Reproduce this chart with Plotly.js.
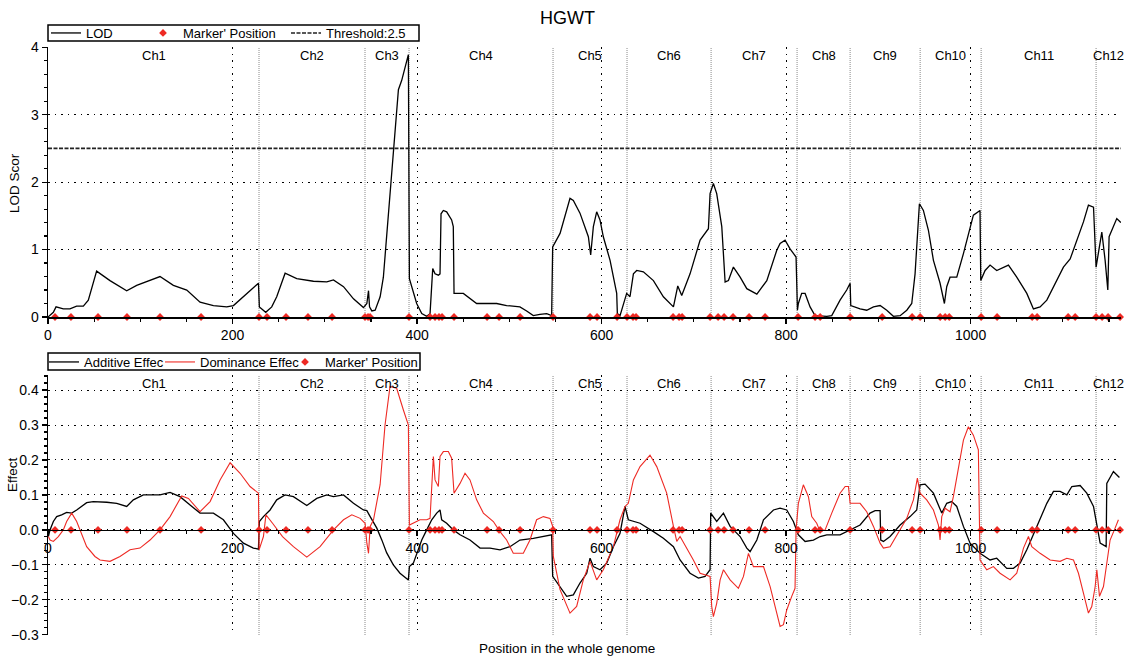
<!DOCTYPE html>
<html>
<head>
<meta charset="utf-8">
<script src="https://cdn.plot.ly/plotly-3.0.1.min.js"></script>
<style>html,body{margin:0;padding:0;background:#fff;}#chart{width:1135px;height:659px;}</style>
</head>
<body>
<div id="chart"></div>
<script>
// ---------------- DATA ----------------
const chromNames = ['Ch1','Ch2','Ch3','Ch4','Ch5','Ch6','Ch7','Ch8','Ch9','Ch10','Ch11','Ch12'];
const chromStarts = [0, 228.7, 343.6, 391.3, 547.4, 627.6, 718.7, 811.9, 869.4, 945.3, 1011.4, 1136];
const genomeEnd = 1163;
const threshold = 2.5;

const markerPos = [7.6, 24.9, 54.2, 85.6, 121.4, 165.9, 228.7, 237.4, 258, 281.8, 307.9, 343.6, 346.9, 349.1,
  391.3, 414.1, 419.5, 423.8, 427.1, 440.1, 475.9, 488.9, 511.7, 547.4, 587.5, 595.1, 616.8, 627.6, 634.1, 637.4,
  677.5, 684, 687.3, 717.6, 726.3, 732.8, 742.5, 759.9, 777.2, 813, 831.4, 836.9, 869.4, 904.1, 936.6, 945.3,
  967, 972.4, 976.8, 1011.4, 1028.7, 1066.7, 1072.1, 1105.7, 1113.3, 1136, 1142.5, 1149, 1162];

const lodX = [0, 1.4, 5.8, 8.7, 16.6, 23.8, 31.0, 38.3, 43.7, 52.7, 67.2, 85.3, 96.1, 121.4, 135.9, 150.4, 164.8, 179.3, 193.7, 201.0, 215.4, 228.1,
  229.1, 233.5, 236.0, 242.5, 247.9, 257.0, 269.6, 287.7, 302.2, 309.4, 320.3, 331.1, 341.9,
  345.6, 347.4, 348.5, 351.0, 354.6, 357, 360.0, 363.5, 368.9, 374.3, 379.8, 383.4, 387.0, 390.6,
  391.7, 394.2, 399.6, 405.1, 410.5, 414.1, 417.0, 419.5, 423.1, 424.9, 426.0, 428.5, 432.1, 437.5, 439.3, 440.1, 450.2, 464.6, 486.3, 497.1, 511.5, 518.8, 526.0, 533.2, 540.5, 545.9,
  547.0, 555.0, 565.8, 569.4, 576.6, 585.7, 588.2, 591.1, 594.7, 598.3, 601.9, 609.2, 616.4, 617.1, 620.0, 627.2,
  630.8, 634.5, 638.1, 645.3, 656.2, 667.0, 677.9, 682.6, 686.9, 695.9, 706.8, 715.8, 717.6, 721.2,
  724.8, 730.3, 733.9, 737.5, 742.9, 750.2, 757.4, 768.3, 779.1, 789.9, 793.5, 798.9, 804.3, 810.8,
  812.3, 813.3, 816.9, 820.6, 826.0, 831.4, 844.1, 849.5, 858.5, 865.7, 869.4,
  870.1, 880.2, 887.4, 894.7, 901.9, 909.1, 916.3, 923.6, 930.8, 936.2, 939.8, 944.5,
  948.8, 954.2, 959.7, 966.9, 971.6, 974.1, 977.7, 985.0, 992.2, 999.4, 1003.0, 1010.2,
  1011.0, 1015.7, 1021.1, 1028.3, 1035.6, 1041.0, 1050.0, 1060.9, 1068.1, 1075.3, 1082.6, 1093.4, 1100.6, 1107.9, 1115.1, 1122.3, 1127.7, 1133.2,
  1136.0, 1139.7, 1142.2, 1145.8, 1148.7, 1150.1, 1154.8, 1158.4, 1162.8];
const lodY = [0.0, 0.02, 0.07, 0.15, 0.12, 0.12, 0.16, 0.16, 0.25, 0.68, 0.54, 0.39, 0.47, 0.60, 0.47, 0.40, 0.22, 0.17, 0.15, 0.17, 0.35, 0.50,
  0.15, 0.10, 0.07, 0.15, 0.30, 0.65, 0.57, 0.53, 0.52, 0.55, 0.45, 0.27, 0.14,
  0.20, 0.39, 0.15, 0.09, 0.10, 0.18, 0.30, 0.59, 1.53, 2.52, 3.37, 3.51, 3.71, 3.89,
  0.57, 0.45, 0.20, 0.05, 0.01, 0.05, 0.72, 0.64, 0.62, 0.64, 1.53, 1.58, 1.56, 1.44, 1.34, 0.35, 0.35, 0.20, 0.20, 0.17, 0.15, 0.09, 0.02, 0.04, 0.05, 0.02,
  1.04, 1.24, 1.76, 1.73, 1.54, 1.19, 0.92, 1.34, 1.56, 1.44, 1.19, 0.84, 0.35, 0.05, 0.02, 0.35,
  0.30, 0.64, 0.69, 0.67, 0.54, 0.30, 0.15, 0.46, 0.32, 0.64, 1.14, 1.31, 1.83, 1.98,
  1.83, 1.34, 0.52, 0.54, 0.74, 0.59, 0.42, 0.34, 0.54, 0.99, 1.09, 1.14, 1.01, 0.89,
  0.10, 0.20, 0.35, 0.35, 0.15, 0.02, 0.01, 0.02, 0.25, 0.40, 0.50,
  0.17, 0.12, 0.10, 0.15, 0.17, 0.10, 0.01, 0.02, 0.10, 0.20, 0.64, 1.68,
  1.58, 1.29, 0.84, 0.50, 0.20, 0.45, 0.59, 0.59, 0.94, 1.34, 1.51, 1.58,
  0.54, 0.69, 0.77, 0.69, 0.74, 0.77, 0.59, 0.35, 0.12, 0.15, 0.25, 0.54, 0.74, 0.86, 1.14, 1.41, 1.66, 1.63,
  0.74, 1.04, 1.26, 0.84, 0.40, 1.19, 1.34, 1.46, 1.40];

const addX = [0.4, 2.2, 5.8, 9.4, 14.8, 20.2, 25.7, 31.1, 41.9, 49.1, 63.7, 74.5, 85.3, 92.5, 103.4, 121.4, 132.3, 143.1, 154.0, 164.8, 179.3, 190.1, 201.0, 211.8, 222.6, 228.1,
  229.1, 233.5, 240.7, 247.9, 257.0, 266.0, 280.5, 291.3, 302.2, 309.4, 320.3, 331.1, 341.9, 345.6,
  349.2, 356.4, 362, 367, 374.3, 381.5, 390.6,
  391.7, 396.0, 399.6, 405.1, 410.5, 415.9, 421.3, 424.9, 426.7, 432.1, 439.3, 446.6, 457.4, 468.3, 479.1, 489.9, 500.7, 511.5, 526.0, 536.9, 545.9,
  547.0, 555.0, 562.2, 569.4, 576.6, 583.9, 587.5, 591.1, 598.3, 605.6, 612.8, 620.0, 625.4,
  629.0, 641.7, 656.2, 667.0, 677.9, 685.1, 695.9, 705.0, 712.2, 717.6,
  718.3, 724.8, 732.1, 739.3, 750.2, 757.4, 761.0, 768.3, 775.5, 786.3, 793.5, 800.7, 807.9,
  813.3, 820.6, 829.6, 836.9, 844.1, 858.5, 869.4,
  880.2, 891.0, 896.5, 901.9, 902.6, 905.5, 912.7, 923.6, 934.4, 941.6, 945.2,
  950.6, 959.7, 968.7, 974.1, 979.5, 985.0, 992.2, 999.4, 1010.2,
  1021.1, 1028.3, 1039.2, 1046.4, 1053.7, 1060.9, 1071.7, 1082.6, 1089.8, 1097.0, 1104.3, 1109.7, 1118.7, 1125.9, 1133.2, 1136.8, 1140.4,
  1146.9, 1147.6, 1154.8, 1161.3];
const addY = [-0.019, 0.0, 0.024, 0.038, 0.043, 0.050, 0.048, 0.057, 0.078, 0.081, 0.079, 0.076, 0.067, 0.086, 0.100, 0.100, 0.107, 0.095, 0.071, 0.048, 0.048, 0.029, -0.010, -0.038, -0.052, -0.055,
  0.024, 0.038, 0.057, 0.086, 0.100, 0.095, 0.070, 0.090, 0.100, 0.095, 0.100, 0.076, 0.057, 0.055,
  0.038, 0.005, -0.03, -0.065, -0.10, -0.124, -0.143,
  -0.105, -0.095, -0.067, -0.029, 0.0, 0.029, 0.048, 0.057, 0.029, 0.019, 0.0, -0.014, -0.029, -0.052, -0.052, -0.057, -0.048, -0.029, -0.024, -0.019, -0.014,
  -0.133, -0.162, -0.190, -0.186, -0.152, -0.124, -0.081, -0.105, -0.114, -0.095, -0.048, -0.010, 0.067,
  0.029, 0.019, -0.005, -0.024, -0.048, -0.086, -0.124, -0.138, -0.133, -0.114,
  0.048, 0.024, 0.048, 0.010, -0.019, -0.052, -0.062, -0.029, 0.029, 0.057, 0.062, 0.057, 0.024,
  -0.014, -0.033, -0.029, -0.019, -0.014, -0.014, 0.0,
  0.014, 0.048, 0.055, 0.055, -0.029, -0.033, -0.019, 0.014, 0.038, 0.057, 0.129,
  0.131, 0.105, 0.048, 0.076, 0.081, 0.067, 0.010, -0.038, -0.067,
  -0.086, -0.081, -0.110, -0.110, -0.095, -0.057, 0.010, 0.076, 0.110, 0.110, 0.100, 0.124, 0.127, 0.105, 0.067, 0.010, -0.038,
  -0.048, 0.133, 0.167, 0.150];

const domX = [0.4, 2.2, 5.8, 11.2, 16.6, 20.2, 25.7, 31.1, 41.9, 50.9, 56.4, 67.2, 78.0, 88.9, 99.7, 110.6, 121.4, 132.3, 144.9, 152.2, 164.8, 175.7, 186.5, 197.4, 208.2, 219.0, 228.1,
  228.8, 233.5, 236.2, 243.4, 254.2, 266.0, 280.5, 294.9, 309.4, 320.3, 329.3, 338.3, 343.7,
  345.6, 347.4, 349.2, 352.8, 360, 365.3, 370.7, 377.9, 385.2, 390.6,
  391.7, 396.0, 403.2, 410.5, 414.1, 417.7, 419.5, 423.1, 424.9, 428.5, 433.9, 437.5, 440.1, 446.6, 452.0, 457.4, 464.6, 471.9, 482.7, 489.9, 497.1, 504.3, 515.2, 522.4, 529.6, 536.9, 544.1, 547.0,
  547.7, 555.0, 562.2, 565.8, 573.0, 580.2, 587.5, 594.7, 601.9, 612.8, 620.0, 625.4,
  629.0, 634.5, 641.7, 652.5, 659.8, 670.6, 677.9, 681.5, 685.1, 692.3, 699.5, 706.8, 717.6,
  719.4, 721.2, 724.8, 728.5, 732.1, 739.3, 748.3, 753.8, 759.2, 764.6, 775.5, 782.7, 789.9, 793.5, 797.1, 800.7, 806.1, 809.7,
  810.8, 813.3, 818.7, 824.2, 827.8, 833.2, 836.9, 842.3, 849.5, 858.5, 864.0, 867.6, 869.4,
  880.2, 887.4, 894.7, 901.9, 905.5, 912.7, 923.6, 930.8, 938.0, 942.3, 945.2,
  952.4, 959.7, 965.1, 966.9, 968.7, 972.3, 977.7, 981.3, 986.8, 992.2, 997.6, 1003.0, 1008.4, 1009.5, 1010.2,
  1017.5, 1024.7, 1031.9, 1042.8, 1050.0, 1057.3, 1062.7, 1066.3, 1075.3, 1086.2, 1097.0, 1104.3, 1111.5, 1116.9, 1122.3, 1127.7, 1131.3, 1135.0, 1136.8,
  1139.7, 1144.0, 1151.2, 1156.6, 1160.2];
const domY = [-0.019, -0.029, -0.033, -0.019, 0.0, 0.024, 0.048, 0.024, -0.048, -0.076, -0.086, -0.090, -0.076, -0.057, -0.052, -0.029, 0.0, 0.038, 0.097, 0.090, 0.052, 0.081, 0.143, 0.192, 0.162, 0.124, 0.105,
  -0.057, -0.019, 0.043, 0.019, -0.019, -0.048, -0.078, -0.048, 0.0, 0.029, 0.043, 0.033, 0.019,
  -0.038, -0.067, 0.010, 0.029, 0.13, 0.30, 0.41, 0.405, 0.343, 0.300,
  0.014, 0.019, 0.029, 0.029, 0.033, 0.210, 0.143, 0.124, 0.210, 0.224, 0.224, 0.205, 0.105, 0.133, 0.162, 0.143, 0.086, 0.048, 0.024, -0.005, -0.029, -0.067, -0.067, -0.029, 0.029, 0.038, 0.033, 0.010,
  -0.076, -0.171, -0.219, -0.238, -0.219, -0.143, -0.090, -0.143, -0.114, -0.048, 0.029, 0.067,
  0.076, 0.143, 0.181, 0.214, 0.181, 0.105, 0.010, -0.033, -0.019, -0.052, -0.086, -0.124, -0.133,
  -0.219, -0.248, -0.210, -0.143, -0.114, -0.143, -0.167, -0.133, -0.067, -0.105, -0.105, -0.162, -0.238, -0.276, -0.271, -0.229, -0.190, -0.167,
  0.0, 0.076, 0.129, 0.095, 0.038, 0.019, -0.005, 0.0, 0.048, 0.105, 0.124, 0.124, 0.076,
  0.076, 0.052, 0.010, -0.038, -0.052, -0.048, 0.0, 0.033, 0.086, 0.148, 0.105,
  0.086, 0.057, 0.014, -0.029, 0.038, 0.062, 0.052, 0.095, 0.181, 0.257, 0.295, 0.271, 0.229, 0.0, -0.086,
  -0.114, -0.105, -0.124, -0.143, -0.124, -0.052, -0.019, -0.048, -0.067, -0.086, -0.090, -0.081, -0.086, -0.124, -0.181, -0.238, -0.219, -0.162, -0.114,
  -0.190, -0.162, -0.029, 0.005, 0.029];

// ---------------- LAYOUT ----------------
const W = 1135, H = 659;
const M = {l: 48, r: 14, t: 47, b: 24};
const plotW = W - M.l - M.r;
const plotH = H - M.t - M.b;
const py = p => (H - M.b - p) / plotH;      // pixel row -> paper y
const px = p => (p - M.l) / plotW;          // pixel col -> paper x
const topDomain = [py(317), 1];
const botDomain = [0, py(375)];
const lodRange = [0, 4.004];
const effRange = [-0.3006, 0.443];
const zeroFrac = (0 - effRange[0]) / (effRange[1] - effRange[0]);
const zeroPos = botDomain[0] + zeroFrac * (botDomain[1] - botDomain[0]);
const FONT = 'Liberation Sans, Arial, sans-serif';
const RED = '#ee2a24';

const chromEnds = chromStarts.slice(1).concat([genomeEnd]);
const chromMid = chromStarts.map((s, i) => (s + chromEnds[i]) / 2);

const traces = [
  {x: lodX, y: lodY, xaxis: 'x', yaxis: 'y', mode: 'lines', name: 'LOD', legend: 'legend',
   line: {color: '#000', width: 1.3}},
  {x: markerPos, y: markerPos.map(() => 0), xaxis: 'x', yaxis: 'y', mode: 'markers', name: "Marker' Position",
   legend: 'legend2', cliponaxis: false, marker: {symbol: 'diamond', size: 6, color: RED}},
  {x: [0, genomeEnd], y: [threshold, threshold], xaxis: 'x', yaxis: 'y', mode: 'lines', name: 'Threshold:' + threshold,
   legend: 'legend3', line: {color: '#222', width: 1.6, dash: '4px,1.5px'}},
  {x: addX, y: addY, xaxis: 'x2', yaxis: 'y2', mode: 'lines', name: 'Additive Effec', legend: 'legend4',
   line: {color: '#000', width: 1.3}},
  {x: domX, y: domY, xaxis: 'x2', yaxis: 'y2', mode: 'lines', name: 'Dominance Effec', legend: 'legend5',
   line: {color: RED, width: 1.1}},
  {x: markerPos, y: markerPos.map(() => 0), xaxis: 'x2', yaxis: 'y2', mode: 'markers', name: "Marker' Position",
   legend: 'legend6', cliponaxis: false, marker: {symbol: 'diamond', size: 6, color: RED}}
];

const shapes = [];
const annotations = [];
chromStarts.slice(1).forEach(b => {
  [['x', 'y domain'], ['x2', 'y2 domain']].forEach(([xr, yr]) => {
    shapes.push({type: 'line', xref: xr, yref: yr, x0: b, x1: b, y0: 0, y1: 1,
      line: {color: '#8a8a8a', width: 1, dash: '1px,1px'}, layer: 'below'});
  });
});
// legend frames
shapes.push({type: 'rect', xref: 'paper', yref: 'paper', x0: 0, x1: px(419), y0: py(41), y1: py(25),
  line: {color: '#000', width: 1.5}, fillcolor: 'rgba(0,0,0,0)'});
shapes.push({type: 'rect', xref: 'paper', yref: 'paper', x0: 0, x1: px(420), y0: py(370), y1: py(353),
  line: {color: '#000', width: 1.5}, fillcolor: 'rgba(255,255,255,1)'});

chromNames.forEach((n, i) => {
  annotations.push({text: n, xref: 'x', yref: 'y domain', x: chromMid[i], y: 0.97, showarrow: false,
    font: {size: 13, color: '#000', family: FONT}, xanchor: 'center', yanchor: 'middle'});
  annotations.push({text: n, xref: 'x2', yref: 'y2 domain', x: chromMid[i], y: 0.969, showarrow: false,
    font: {size: 13, color: '#000', family: FONT}, xanchor: 'center', yanchor: 'middle'});
});
annotations.push({text: 'LOD Scor', xref: 'paper', yref: 'paper', x: px(14), y: py(183), xanchor: 'center', yanchor: 'middle',
  textangle: -90, showarrow: false, font: {size: 13.5, color: '#000', family: FONT}});
annotations.push({text: 'Effect', xref: 'paper', yref: 'paper', x: px(13), y: py(475), xanchor: 'center', yanchor: 'middle',
  textangle: -90, showarrow: false, font: {size: 13.5, color: '#000', family: FONT}});
annotations.push({text: 'Position in the whole genome', xref: 'paper', yref: 'paper', x: px(567), y: py(648),
  xanchor: 'center', yanchor: 'middle', showarrow: false, font: {size: 13.5, color: '#000', family: FONT}});

const gridCommon = {showgrid: true, gridcolor: '#000', gridwidth: 1, griddash: '1.5px,5px', zeroline: false,
  showline: true, linecolor: '#000', linewidth: 1.5, ticks: 'outside', tickcolor: '#000', ticklen: 5, tickwidth: 1.2,
  tickfont: {size: 14, color: '#000', family: FONT}};

const legendAt = (xPix, yPix) => ({orientation: 'h', x: px(xPix), xanchor: 'left', y: py(yPix), yanchor: 'middle',
  bordercolor: 'rgba(0,0,0,0)', borderwidth: 0, bgcolor: 'rgba(0,0,0,0)',
  font: {size: 13, color: '#000', family: FONT}, itemwidth: 30});

const layout = {
  width: W, height: H, margin: M, paper_bgcolor: '#fff', plot_bgcolor: '#fff',
  font: {family: FONT, color: '#000'},
  title: {text: 'HGWT', x: 0.5, xref: 'container', y: 1 - 18 / H, yref: 'container', yanchor: 'middle',
    font: {size: 18, color: '#000', family: FONT}},
  xaxis: Object.assign({}, gridCommon, {domain: [0, 1], range: [0, genomeEnd], anchor: 'y', dtick: 200, tick0: 0,
    minor: {dtick: 50, ticklen: 3, tickcolor: '#000', ticks: 'outside', showgrid: false}}),
  yaxis: Object.assign({}, gridCommon, {domain: topDomain, range: lodRange, anchor: 'x', dtick: 1, tick0: 0,
    minor: {dtick: 0.2, ticklen: 3, tickcolor: '#000', ticks: 'outside', showgrid: false}}),
  xaxis2: Object.assign({}, gridCommon, {domain: [0, 1], range: [0, genomeEnd], anchor: 'free', position: zeroPos,
    dtick: 200, tick0: 0, minor: {dtick: 50, ticklen: 3, tickcolor: '#000', ticks: 'outside', showgrid: false}}),
  yaxis2: Object.assign({}, gridCommon, {domain: botDomain, range: effRange, anchor: 'x2', dtick: 0.1, tick0: 0,
    tickformat: '.1f', minor: {dtick: 0.02, ticklen: 3, tickcolor: '#000', ticks: 'outside', showgrid: false}}),
  legend: legendAt(46, 33),
  legend2: legendAt(143, 33),
  legend3: legendAt(286, 33),
  legend4: legendAt(44, 362),
  legend5: legendAt(160, 362),
  legend6: legendAt(285, 362),
  shapes: shapes,
  annotations: annotations,
  showlegend: true
};

Plotly.newPlot('chart', traces, layout, {displayModeBar: false, staticPlot: true});
</script>
</body>
</html>
